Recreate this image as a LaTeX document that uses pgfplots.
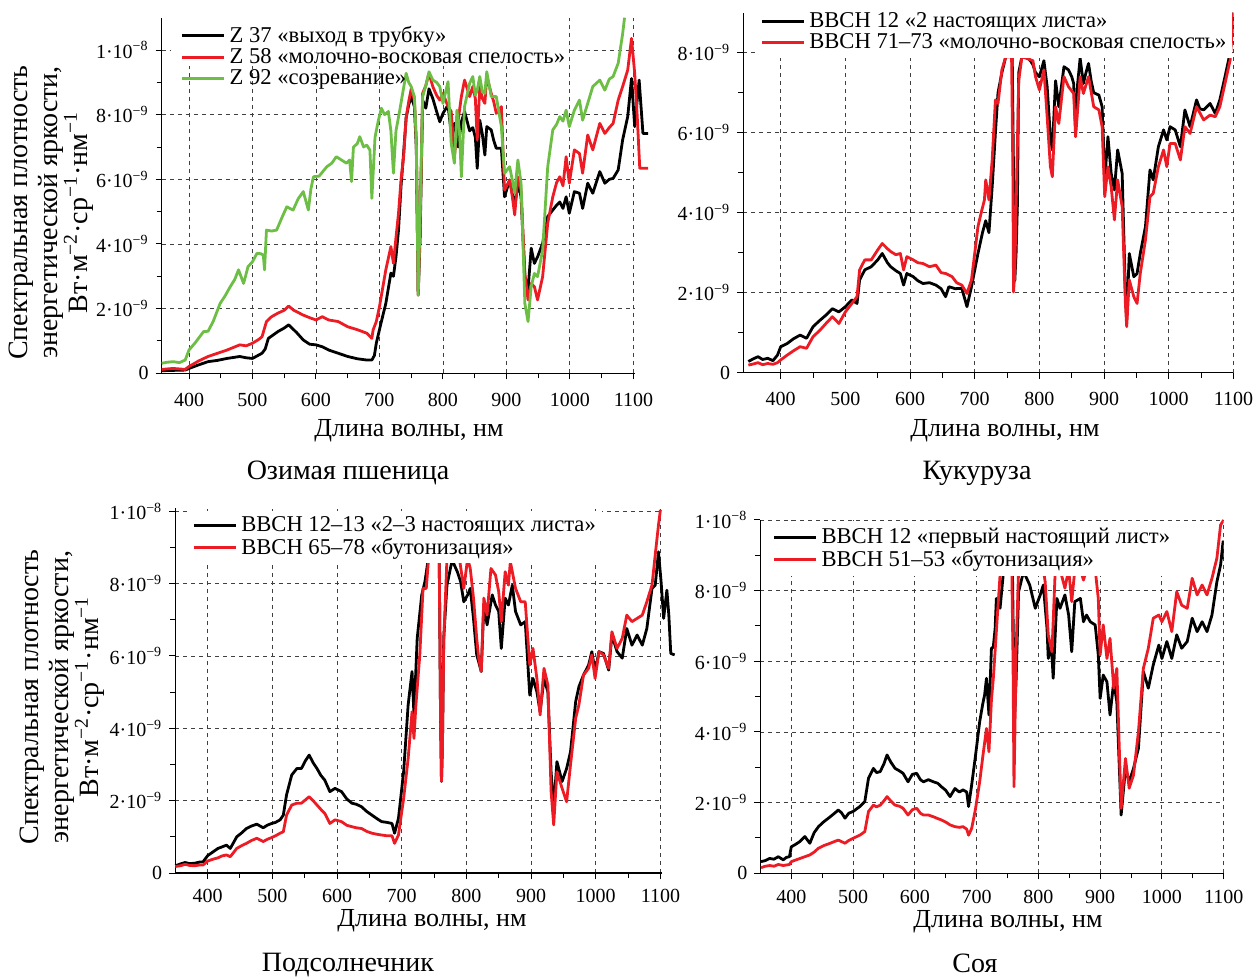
\documentclass[border=0pt]{standalone}
\usepackage{pgfplots}
\pgfplotsset{compat=1.18}
\usepackage{fontspec}
\setmainfont{Liberation Serif}
\definecolor{cred}{RGB}{237,28,36}
\definecolor{cgreen}{RGB}{108,190,69}
\newcommand{\ym}[1]{#1·10\textsuperscript{−9}}
\newcommand{\yt}{1·10\textsuperscript{−8}}
\pgfplotsset{
  myaxis/.style={
    scale only axis,
    anchor=south west,
    axis x line*=bottom, axis y line*=left,
    axis line style={line width=0.6pt},
    tick align=outside,
    major tick length=3pt, minor tick length=2.5pt,
    tick style={line width=0.5pt, black},
    xtick={400,500,600,700,800,900,1000,1100},
    xticklabels={400,500,600,700,800,900,1000,1100},
    minor x tick num=1, minor y tick num=1,
    grid=major,
    major grid style={dash pattern=on 2pt off 2pt, line width=0.45pt, black!75},
    ymin=0,
    scaled y ticks=false,
    tick label style={font=\fontsize{10}{12}\selectfont},
    xticklabel style={inner sep=1pt},
    legend cell align=left,
    legend style={draw=none, fill=white, anchor=north west,
      font=\fontsize{11.3}{12}\selectfont, inner sep=1pt, row sep=-2.3pt},
    legend image code/.code={\draw[##1, line width=1.5pt] (0pt,0pt) -- (21pt,0pt);},
    every axis plot/.append style={line width=1.4pt, line join=round},
  },
}
\begin{document}
\begin{tikzpicture}
\useasboundingbox (0,0) rectangle (629.5pt,488pt);
% ---------------- Panel 1: winter wheat
\begin{axis}[myaxis, xticklabel style={yshift=-5.8pt}, at={(80.85pt,301.35pt)}, width=236.5pt, height=177.8pt,
  xmin=357, xmax=1102, ymax=11, clip=false,
  ytick={0,2,4,6,8,10}, yticklabels={0,\ym2,\ym4,\ym6,\ym8,\yt},
  legend style={at={(0.035,0.995)}, fill=none}]
\fill[white] (rel axis cs:0.02,0.864) rectangle (rel axis cs:0.86,1.0);
\addplot[black] coordinates {(357,0.08)(375,0.09)(394,0.1)(400,0.15)(415,0.26)(430,0.36)(445,0.4)(460,0.46)(480,0.52)(490,0.48)(500,0.46)(515,0.62)(520,0.75)(525,1.08)(540,1.29)(550,1.4)(557,1.5)(570,1.25)(580,1.03)(590,0.9)(600,0.88)(610,0.82)(620,0.72)(635,0.62)(650,0.52)(665,0.45)(680,0.41)(688,0.41)(692,0.55)(695,0.93)(703,1.6)(710,2.16)(718,3.1)(722,3.0)(726,3.6)(730,4.43)(734,5.8)(738,6.8)(742,7.9)(746,8.3)(750,8.56)(755,8.25)(758,7.0)(761,2.42)(764,4.2)(768,8.45)(773,8.2)(778,8.8)(784,8.5)(790,8.1)(795,7.78)(800,8.04)(808,8.3)(813,7.42)(818,7.73)(824,7.0)(829,7.78)(834,8.1)(842,7.5)(847,7.6)(851,7.3)(854,6.34)(858,7.83)(862,7.4)(866,6.75)(869,7.63)(876,7.53)(880,7.2)(884,6.96)(892,6.96)(897,5.46)(905,5.98)(909,5.6)(913,5.15)(918,5.88)(923,5.46)(929,2.99)(934,2.58)(939,3.87)(944,3.4)(949,3.6)(957,4.02)(965,4.85)(973,5.05)(979,5.2)(984,5.3)(989,5.1)(994,5.46)(999,4.95)(1007,5.62)(1015,5.57)(1020,5.1)(1028,5.88)(1036,5.57)(1047,6.24)(1055,5.88)(1062,6.0)(1068,6.03)(1076,6.29)(1083,7.22)(1091,7.94)(1097,9.12)(1102,7.63)(1109,9.07)(1115,7.42)(1123,7.42)};
\addlegendentry{Z 37 «выход в трубку»}
\addplot[cred] coordinates {(357,0.12)(375,0.15)(394,0.12)(400,0.21)(415,0.38)(430,0.52)(445,0.62)(460,0.72)(470,0.8)(480,0.88)(490,0.85)(500,0.93)(510,1.05)(515,1.13)(522,1.6)(530,1.75)(540,1.86)(550,1.95)(557,2.08)(565,1.95)(580,1.8)(590,1.72)(600,1.65)(610,1.75)(620,1.65)(635,1.6)(650,1.44)(665,1.35)(680,1.24)(688,1.08)(690,1.34)(695,1.6)(700,2.06)(710,3.2)(718,3.92)(722,3.4)(726,4.2)(730,4.95)(734,6.0)(738,6.7)(742,7.9)(746,8.4)(750,8.8)(755,8.45)(758,7.2)(761,2.42)(764,4.54)(768,8.66)(773,8.9)(778,9.28)(784,8.87)(790,8.6)(795,8.45)(800,8.66)(808,8.25)(813,8.1)(818,6.7)(824,7.83)(829,8.56)(834,9.07)(842,8.56)(847,8.87)(851,8.5)(854,7.22)(858,8.87)(862,8.5)(866,8.35)(869,9.18)(876,8.66)(880,8.4)(884,8.04)(892,8.25)(897,5.67)(905,5.98)(909,5.5)(913,4.9)(918,6.08)(923,5.67)(929,3.09)(934,2.27)(939,2.78)(944,2.68)(949,2.27)(957,2.99)(965,4.64)(973,5.46)(979,5.9)(984,6.08)(989,5.8)(994,6.7)(999,5.88)(1007,6.91)(1015,6.8)(1020,6.19)(1028,7.37)(1036,6.91)(1047,7.73)(1055,7.42)(1062,7.6)(1068,7.73)(1076,8.45)(1083,8.87)(1091,9.38)(1097,10.36)(1102,9.28)(1106,7.94)(1110,6.34)(1123,6.34)};
\addlegendentry{Z 58 «молочно-восковая спелость»}
\addplot[cgreen] coordinates {(357,0.31)(365,0.34)(375,0.36)(385,0.33)(394,0.41)(400,0.72)(410,0.95)(423,1.29)(430,1.3)(438,1.6)(449,2.16)(457,2.4)(465,2.68)(472,2.9)(478,3.2)(486,2.78)(493,3.3)(500,3.45)(507,3.71)(513,3.7)(517,3.66)(519,3.2)(522,4.43)(530,4.4)(538,4.43)(546,4.8)(554,5.15)(564,5.05)(572,5.4)(580,5.62)(588,5.05)(592,5.7)(596,6.08)(605,6.1)(617,6.39)(625,6.5)(632,6.7)(640,6.6)(648,6.5)(653,6.6)(656,5.93)(659,7.0)(665,7.1)(669,7.32)(675,7.0)(680,7.06)(685,6.9)(688,5.41)(693,7.3)(698,7.8)(703,8.2)(708,8.0)(714,8.1)(718,7.5)(722,6.19)(726,7.5)(732,8.14)(736,8.6)(742,9.28)(746,9.0)(750,8.87)(755,8.56)(758,7.2)(761,2.42)(764,4.85)(768,8.56)(773,8.9)(778,9.33)(784,9.07)(790,9.0)(795,8.87)(800,8.35)(808,9.02)(813,7.11)(818,6.5)(822,8.14)(826,7.5)(829,6.08)(834,8.25)(842,8.97)(847,9.18)(851,8.6)(854,8.76)(858,9.18)(862,8.7)(866,8.66)(869,9.33)(876,8.56)(884,8.56)(892,7.63)(897,6.19)(905,6.39)(909,6.0)(913,5.57)(918,6.6)(923,5.88)(929,2.16)(934,1.6)(939,2.68)(944,3.09)(949,2.99)(957,3.81)(965,6.39)(973,7.53)(979,7.7)(984,7.94)(989,7.8)(994,8.14)(999,7.63)(1007,8.14)(1015,8.45)(1020,7.83)(1028,8.35)(1036,8.87)(1047,9.07)(1055,8.76)(1062,9.1)(1068,9.18)(1076,9.59)(1083,10.5)(1086,11.0)};
\addlegendentry{Z 92 «созревание»}
\end{axis}
% ---------------- Panel 2: maize
\begin{axis}[myaxis, xticklabel style={yshift=-5.8pt}, at={(371.6pt,301.65pt)}, width=245.1pt, height=180pt,
  xmin=342, xmax=1100, ymax=9,
  ytick={0,2,4,6,8}, yticklabels={0,\ym2,\ym4,\ym6,\ym8},
  legend style={at={(0.03,1.018)}}]
\addplot[black] coordinates {(350,0.28)(358,0.35)(365,0.4)(372,0.33)(380,0.36)(388,0.3)(395,0.44)(400,0.65)(410,0.73)(420,0.85)(430,0.94)(440,0.86)(450,1.15)(460,1.3)(470,1.44)(480,1.6)(490,1.52)(500,1.65)(510,1.82)(518,1.73)(522,2.32)(530,2.57)(540,2.65)(550,2.82)(557,2.98)(565,2.75)(570,2.65)(578,2.55)(585,2.48)(590,2.19)(595,2.48)(605,2.4)(612,2.3)(620,2.23)(630,2.25)(640,2.19)(648,2.1)(655,1.9)(660,2.15)(670,2.1)(680,2.11)(688,1.65)(695,2.15)(705,2.98)(712,3.5)(717,3.8)(722,3.5)(727,4.65)(732,6.0)(736,7.0)(742,7.5)(748,7.9)(755,7.9)(758,7.9)(760,5.0)(762,2.3)(764,3.0)(766,4.2)(768,7.5)(773,7.9)(780,7.9)(786,7.8)(790,7.7)(794,7.5)(800,7.4)(807,7.8)(812,7.15)(817,5.9)(820,5.57)(825,7.3)(830,6.65)(838,7.65)(845,7.57)(850,7.4)(853,7.23)(856,6.07)(859,7.2)(863,7.86)(868,7.23)(872,7.5)(876,7.73)(880,7.3)(884,7.0)(892,6.94)(897,6.65)(901,4.82)(906,5.9)(911,4.98)(916,4.57)(921,5.57)(928,4.98)(933,1.98)(935,1.32)(939,2.98)(946,2.4)(951,2.48)(956,2.98)(964,3.65)(971,5.07)(976,4.82)(984,5.65)(992,6.07)(997,5.82)(1002,6.15)(1010,6.07)(1018,5.65)(1025,6.57)(1033,6.15)(1043,6.82)(1048,6.6)(1054,6.57)(1064,6.73)(1072,6.48)(1079,6.82)(1087,7.4)(1095,8.0)(1100,9.0)};
\addlegendentry{BBCH 12 «2 настоящих листа»}
\addplot[cred] coordinates {(350,0.19)(358,0.22)(365,0.25)(372,0.2)(380,0.23)(388,0.21)(395,0.25)(400,0.32)(410,0.44)(420,0.55)(430,0.65)(440,0.61)(450,0.9)(460,1.05)(470,1.23)(480,1.4)(490,1.23)(500,1.52)(510,1.73)(518,1.9)(522,2.57)(530,2.82)(540,2.82)(550,3.07)(557,3.23)(565,3.1)(570,3.03)(578,2.95)(585,2.98)(590,2.57)(595,2.9)(605,2.82)(612,2.75)(620,2.73)(630,2.65)(640,2.69)(648,2.5)(655,2.48)(665,2.4)(672,2.25)(680,2.19)(688,1.98)(695,2.32)(705,3.65)(710,4.0)(715,4.32)(717,4.82)(722,4.32)(727,5.32)(732,6.82)(736,6.73)(742,7.57)(748,7.9)(757,7.9)(759,5.0)(760,2.02)(762,2.5)(764,4.15)(768,7.3)(773,7.9)(790,7.8)(794,7.4)(800,7.07)(807,7.57)(812,6.4)(817,5.15)(820,4.9)(825,6.65)(830,6.23)(838,7.4)(845,7.15)(853,6.98)(856,5.9)(863,7.4)(868,6.98)(876,7.4)(884,6.65)(892,6.57)(897,6.15)(901,4.4)(906,5.15)(911,4.65)(916,3.82)(921,4.82)(928,4.15)(933,1.73)(935,1.15)(939,2.32)(946,1.9)(951,1.73)(956,2.48)(964,3.32)(971,4.4)(976,4.48)(984,5.15)(992,5.57)(997,5.15)(1002,5.73)(1010,5.73)(1018,5.32)(1025,6.15)(1033,5.98)(1043,6.65)(1054,6.32)(1064,6.44)(1072,6.4)(1079,6.65)(1087,7.23)(1095,7.82)(1100,9.0)};
\addlegendentry{BBCH 71–73 «молочно-восковая спелость»}
\end{axis}
% ---------------- Panel 3: sunflower
\begin{axis}[myaxis, xticklabel style={yshift=-4pt}, at={(87.65pt,51.5pt)}, width=243.2pt, height=182.65pt,
  xmin=350, xmax=1102, ymax=10.1, clip=false,
  ytick={0,2,4,6,8,10}, yticklabels={0,\ym2,\ym4,\ym6,\ym8,\yt},
  legend style={at={(0.03,0.993)}}]
\addplot[black] coordinates {(350,0.2)(358,0.25)(365,0.29)(372,0.26)(380,0.27)(387,0.3)(393,0.31)(400,0.48)(408,0.58)(416,0.68)(422,0.72)(429,0.77)(435,0.68)(445,1.0)(452,1.1)(460,1.23)(468,1.3)(476,1.35)(486,1.25)(492,1.32)(499,1.37)(505,1.4)(512,1.47)(517,1.6)(522,2.16)(530,2.71)(538,2.89)(545,2.89)(551,3.1)(557,3.26)(563,3.05)(569,2.89)(575,2.7)(581,2.57)(589,2.25)(597,2.34)(607,2.25)(615,2.05)(623,1.93)(630,1.9)(638,1.83)(646,1.7)(654,1.6)(662,1.5)(669,1.42)(677,1.4)(685,1.37)(689,1.1)(695,1.51)(703,2.8)(710,4.65)(716,5.57)(719,4.37)(724,6.49)(731,7.69)(736,8.06)(742,8.8)(758,8.8)(760,4.46)(761.5,2.53)(763,3.5)(765,6.5)(770,7.96)(778,8.65)(786,8.33)(791,8.06)(796,7.5)(802,7.69)(806,7.87)(811,7.04)(816,6.03)(819,5.84)(823,5.57)(827,7.41)(832,6.86)(840,7.69)(845,7.41)(850,7.23)(854,6.21)(860,7.6)(865,7.41)(871,7.96)(876,7.23)(884,6.86)(891,6.95)(898,4.92)(903,5.38)(909,5.01)(914,4.46)(920,5.38)(926,5.01)(931,2.8)(935,1.79)(940,3.08)(948,2.53)(955,2.89)(961,3.35)(969,4.74)(974,5.15)(981,5.47)(989,5.75)(994,6.12)(999,5.57)(1005,6.12)(1012,6.07)(1020,5.61)(1025,6.58)(1033,6.12)(1041,5.94)(1048,6.76)(1056,6.3)(1064,6.58)(1072,6.3)(1079,6.76)(1087,7.87)(1092,7.96)(1097,8.88)(1101,8.06)(1105,7.04)(1110,7.82)(1113,7.13)(1116,6.07)(1122,6.03)};
\addlegendentry{BBCH 12–13 «2–3 настоящих листа»}
\addplot[cred] coordinates {(350,0.18)(358,0.2)(365,0.24)(372,0.21)(380,0.2)(387,0.22)(393,0.22)(400,0.33)(408,0.38)(416,0.42)(422,0.47)(429,0.5)(435,0.45)(445,0.68)(452,0.75)(460,0.82)(468,0.9)(476,0.96)(486,0.87)(492,0.93)(499,0.98)(505,1.03)(512,1.1)(517,1.14)(522,1.6)(530,1.88)(538,1.93)(545,1.93)(551,2.02)(557,2.11)(563,2.0)(569,1.88)(575,1.76)(581,1.65)(589,1.37)(597,1.47)(607,1.42)(615,1.32)(623,1.28)(630,1.25)(638,1.23)(646,1.15)(654,1.1)(662,1.07)(669,1.05)(677,1.03)(685,1.03)(689,0.82)(695,1.05)(703,2.06)(710,3.17)(716,4.46)(719,3.72)(722,4.65)(728,6.03)(733,7.87)(738,7.87)(742,8.8)(758,8.8)(760,4.5)(761.5,2.53)(763,3.5)(765,6.4)(770,8.7)(778,8.8)(790,8.6)(796,7.87)(802,8.7)(806,8.42)(811,7.6)(816,6.49)(819,5.94)(823,5.57)(827,7.6)(832,7.13)(838,8.42)(845,8.24)(850,7.78)(854,6.95)(860,8.33)(865,7.96)(868,8.61)(876,7.87)(884,7.5)(891,7.5)(898,5.75)(903,6.21)(909,5.38)(914,4.37)(920,5.66)(926,5.2)(931,2.25)(935,1.33)(940,2.8)(948,2.34)(955,1.97)(961,2.99)(969,4.28)(974,4.65)(981,5.47)(989,5.66)(994,6.03)(999,5.38)(1005,6.12)(1012,6.03)(1020,5.66)(1025,6.67)(1033,6.21)(1041,6.49)(1048,7.13)(1056,6.95)(1064,7.04)(1072,7.13)(1079,7.5)(1087,7.96)(1092,8.8)(1097,9.62)(1100,10.04)};
\addlegendentry{BBCH 65–78 «бутонизация»}
\end{axis}
% ---------------- Panel 4: soybean
\begin{axis}[myaxis, xticklabel style={yshift=-4pt}, at={(380.2pt,51.35pt)}, width=231.65pt, height=176.65pt,
  xmin=350, xmax=1100, ymax=10,
  ytick={0,2,4,6,8,10}, yticklabels={0,\ym2,\ym4,\ym6,\ym8,\yt},
  legend style={at={(0.021,0.994)}}]
\addplot[black] coordinates {(351,0.33)(358,0.36)(365,0.42)(372,0.4)(379,0.47)(387,0.38)(392,0.45)(397,0.47)(400,0.75)(407,0.82)(414,0.9)(422,1.04)(430,0.85)(437,1.15)(444,1.32)(452,1.45)(463,1.6)(470,1.7)(476,1.79)(481,1.72)(487,1.56)(493,1.7)(500,1.75)(511,1.89)(519,2.03)(525,2.69)(533,2.97)(538,2.85)(544,2.88)(550,3.1)(555,3.35)(561,3.15)(568,2.97)(575,2.9)(581,2.83)(589,2.59)(596,2.8)(603,2.83)(609,2.65)(614,2.59)(622,2.65)(630,2.59)(637,2.55)(643,2.45)(650,2.35)(657,2.17)(665,2.4)(672,2.3)(678,2.36)(684,2.3)(687,1.89)(692,2.5)(698,3.3)(705,4.29)(710,4.8)(713,5.05)(716,5.52)(720,4.48)(724,6.37)(727,6.4)(730,6.93)(732,7.78)(738,7.5)(743,8.44)(749,8.6)(758,8.6)(760,6.0)(762,4.58)(764,5.5)(768,7.97)(776,8.54)(781,8.35)(786,8.16)(795,7.5)(803,7.88)(808,8.16)(814,6.93)(816,6.08)(821,6.46)(824,5.52)(830,7.78)(835,7.5)(843,7.88)(849,7.31)(854,6.27)(859,7.69)(868,7.78)(873,7.12)(878,7.31)(884,7.12)(892,7.03)(897,6.18)(900,4.95)(905,5.61)(911,5.42)(916,4.48)(922,5.42)(927,4.86)(934,1.65)(941,2.97)(947,2.59)(954,2.97)(962,3.54)(970,5.71)(978,5.24)(986,5.9)(995,6.46)(1000,6.08)(1008,6.56)(1016,6.08)(1024,6.75)(1032,6.37)(1041,6.56)(1049,7.22)(1057,6.84)(1065,7.12)(1073,6.84)(1081,7.31)(1089,8.25)(1095,8.73)(1099,9.39)(1100,8.9)};
\addlegendentry{BBCH 12 «первый настоящий лист»}
\addplot[cred] coordinates {(351,0.16)(358,0.2)(365,0.22)(372,0.2)(379,0.25)(387,0.22)(397,0.25)(400,0.33)(414,0.42)(422,0.47)(430,0.52)(437,0.6)(444,0.71)(452,0.78)(463,0.85)(470,0.9)(476,0.94)(481,0.9)(487,0.85)(493,0.93)(500,0.99)(511,1.08)(519,1.18)(525,1.75)(533,1.93)(538,1.88)(544,1.93)(550,2.05)(555,2.17)(561,2.05)(568,1.93)(575,1.9)(581,1.84)(589,1.65)(596,1.8)(603,1.84)(609,1.7)(614,1.65)(622,1.65)(630,1.6)(637,1.55)(643,1.51)(650,1.45)(657,1.37)(665,1.32)(672,1.3)(678,1.32)(684,1.25)(687,1.08)(692,1.27)(698,1.8)(705,2.59)(710,3.3)(716,4.1)(720,3.44)(724,4.9)(727,5.5)(730,6.3)(734,7.4)(738,8.44)(743,8.6)(757,8.6)(759,6.0)(760.5,2.45)(762,4.0)(764,6.37)(768,8.6)(808,8.6)(811,8.25)(816,6.75)(822,6.27)(827,8.44)(835,8.6)(843,8.07)(849,8.6)(854,7.69)(859,8.6)(868,8.6)(873,8.3)(878,8.6)(892,8.6)(897,7.78)(900,6.18)(905,7.03)(911,6.08)(916,6.65)(922,5.24)(927,5.8)(934,1.84)(941,3.25)(947,2.41)(954,2.78)(962,4.01)(970,5.8)(978,6.37)(986,7.22)(995,7.31)(1000,7.12)(1008,7.41)(1016,6.84)(1024,7.97)(1032,7.59)(1041,7.5)(1049,8.35)(1057,7.88)(1065,8.16)(1073,7.88)(1081,8.35)(1089,8.92)(1095,9.86)(1100,10.0)};
\addlegendentry{BBCH 51–53 «бутонизация»}
\end{axis}
% ---------------- labels
\tikzset{ylab/.style={rotate=90, align=center, font=\fontsize{14}{15}\selectfont, inner sep=0pt}}
\node[ylab] at (25.5pt,381.75pt) {Спектральная плотность\\энергетической яркости,\\Вт·м\textsuperscript{−2}·ср\textsuperscript{−1}·нм\textsuperscript{−1}};
\node[ylab] at (31pt,139.5pt) {Спектральная плотность\\энергетической яркости,\\Вт·м\textsuperscript{−2}·ср\textsuperscript{−1}·нм\textsuperscript{−1}};
\tikzset{xlab/.style={font=\fontsize{13}{15}\selectfont, inner sep=0pt}}
\node[xlab] at (204.5pt,272.5pt) {Длина волны, нм};
\node[xlab] at (502.5pt,272.5pt) {Длина волны, нм};
\node[xlab] at (216pt,27.5pt) {Длина волны, нм};
\node[xlab] at (504pt,27pt) {Длина волны, нм};
\tikzset{mycap/.style={font=\fontsize{14}{16}\selectfont, inner sep=0pt}}
\node[mycap] at (174pt,251.5pt) {Озимая пшеница};
\node[mycap] at (488.5pt,251.5pt) {Кукуруза};
\node[mycap] at (174pt,5.5pt) {Подсолнечник};
\node[mycap] at (487.5pt,6.5pt) {Соя};
\end{tikzpicture}
\end{document}
